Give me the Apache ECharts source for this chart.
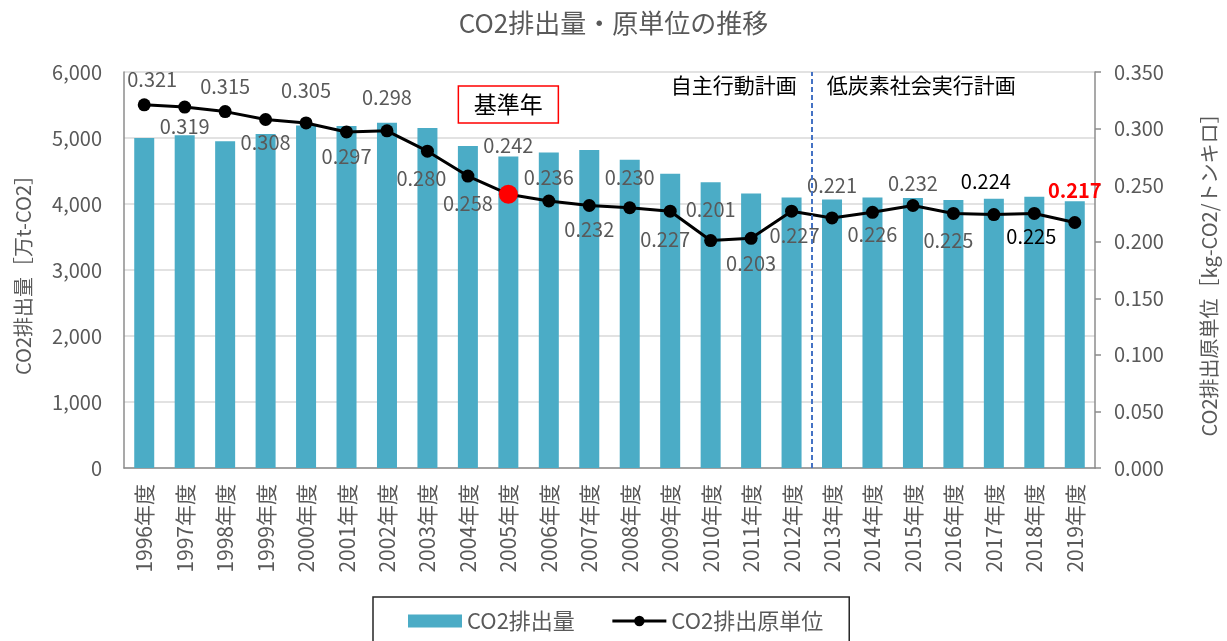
<!DOCTYPE html>
<html>
<head>
<meta charset="utf-8">
<script src="https://cdn.jsdelivr.net/npm/echarts@6/dist/echarts.min.js"></script>
<style>
  html, body { margin: 0; padding: 0; background: #fff; }
  #chart { width: 1227px; height: 641px; }
</style>
</head>
<body>
<div id="chart"></div>
<script>
// 年度
const categories = ['1996年度', '1997年度', '1998年度', '1999年度', '2000年度', '2001年度', '2002年度', '2003年度',
  '2004年度', '2005年度', '2006年度', '2007年度', '2008年度', '2009年度', '2010年度', '2011年度', '2012年度',
  '2013年度', '2014年度', '2015年度', '2016年度', '2017年度', '2018年度', '2019年度']
// CO2排出量 [万t-CO2]
const emissions = [5000, 5040, 4950, 5060, 5190, 5180, 5230, 5150, 4880, 4720, 4780, 4820,
  4670, 4460, 4330, 4160, 4100, 4070, 4100, 4090, 4060, 4080, 4110, 4040]
// CO2排出原単位 [kg-CO2/トンキロ]
const intensity = [0.321, 0.319, 0.315, 0.308, 0.305, 0.297, 0.298, 0.280, 0.258, 0.242, 0.236, 0.232,
  0.230, 0.227, 0.201, 0.203, 0.227, 0.221, 0.226, 0.232, 0.225, 0.224, 0.225, 0.217]
const baseYear = '2005年度'
const planSplit = '2013年度' // 低炭素社会実行計画の開始

// ラベル位置(点からのずれ)
const labelOffsets = [[8, -25], [0, 19], [0, -25], [0, 23], [0, -33], [0, 24], [0, -33], [-6, 27], [0, 27],
  [0, -49], [0, -24], [0, 24], [0, -30], [-5, 28], [0, -31], [0, 25], [3, 24], [0, -33], [0, 22], [0, -22],
  [-5, 27], [-8, -33], [-3, 23], [0, -32]]

const FONT = "'Noto Sans CJK JP', 'Noto Sans', sans-serif"
const GRAY = '#595959'
const AXIS = '#8c8c8c'

const chart = echarts.init(document.getElementById('chart'))

const lineData = intensity.map((v, i) => {
  const item = { value: v, label: { offset: labelOffsets[i] } }
  if (categories[i] === baseYear) {
    item.symbolSize = 19
    item.itemStyle = { color: '#ff0000' }
  }
  if (i === 21 || i === 22) item.label.color = '#000'
  if (i === intensity.length - 1) {
    item.label.color = '#ff0000'
    item.label.fontWeight = 'bold'
  }
  return item
})

const option = {
  animation: false,
  textStyle: { fontFamily: FONT },
  title: {
    text: 'CO2排出量・原単位の推移',
    left: 'center',
    top: 5,
    textStyle: { fontSize: 26, fontWeight: 'normal', color: GRAY, fontFamily: FONT }
  },
  legend: {
    data: [
      { name: 'CO2排出量', icon: 'rect' },
      { name: 'CO2排出原単位' }
    ],
    left: 373,
    top: 597,
    padding: [13, 26, 30, 35],
    borderColor: '#262626',
    borderWidth: 1.5,
    itemGap: 36,
    itemWidth: 54,
    itemHeight: 13,
    lineStyle: { width: 'inherit' },
    textStyle: { fontSize: 22, color: GRAY, fontFamily: FONT }
  },
  grid: { left: 124, right: 122, top: 72, bottom: 173 },
  xAxis: [
    {
      type: 'category',
      data: categories,
      axisLine: { lineStyle: { color: AXIS, width: 1.5 } },
      axisTick: { show: false },
      axisLabel: { rotate: 90, fontSize: 21, color: GRAY, margin: 16, fontFamily: FONT }
    },
    {
      // 計画の区切り線用
      type: 'value',
      min: 0,
      max: categories.length,
      show: false
    }
  ],
  yAxis: [
    {
      type: 'value',
      min: 0,
      max: 6000,
      interval: 1000,
      name: 'CO2排出量［万t-CO2］',
      nameLocation: 'middle',
      nameRotate: 90,
      nameGap: 91,
      nameTextStyle: { fontSize: 20, color: GRAY, fontFamily: FONT },
      axisLine: { show: true, lineStyle: { color: AXIS, width: 1.5 } },
      axisTick: { show: false },
      axisLabel: {
        fontSize: 20,
        color: GRAY,
        margin: 22,
        fontFamily: FONT,
        formatter: v => v.toLocaleString('en-US')
      },
      splitLine: { lineStyle: { color: '#d9d9d9', width: 1.5 } }
    },
    {
      type: 'value',
      min: 0,
      max: 0.35,
      interval: 0.05,
      position: 'right',
      name: 'CO2排出原単位［kg-CO2/トンキロ］',
      nameLocation: 'middle',
      nameRotate: 90,
      nameGap: 104,
      nameTextStyle: { fontSize: 20, color: GRAY, fontFamily: FONT },
      axisLine: { show: true, lineStyle: { color: AXIS, width: 1.5 } },
      axisTick: { show: true, length: 6, lineStyle: { color: AXIS, width: 1.5 } },
      axisLabel: {
        fontSize: 20,
        color: GRAY,
        margin: 19,
        fontFamily: FONT,
        formatter: v => v.toFixed(3)
      },
      splitLine: { show: false }
    }
  ],
  series: [
    {
      name: 'CO2排出量',
      type: 'bar',
      data: emissions,
      barWidth: 20,
      itemStyle: { color: '#4bacc6' }
    },
    {
      name: 'CO2排出原単位',
      type: 'line',
      yAxisIndex: 1,
      data: lineData,
      symbol: 'circle',
      symbolSize: 13,
      itemStyle: { color: '#000' },
      lineStyle: { color: '#000', width: 3 },
      label: {
        show: true,
        position: 'inside',
        fontSize: 20,
        color: GRAY,
        fontFamily: FONT,
        formatter: p => p.value.toFixed(3)
      },
      z: 3
    },
    {
      name: 'split',
      type: 'line',
      xAxisIndex: 1,
      yAxisIndex: 0,
      data: [],
      silent: true,
      markLine: {
        symbol: 'none',
        silent: true,
        label: { show: false },
        lineStyle: { color: '#4472c4', width: 2, type: [5, 3] },
        data: [{ xAxis: categories.indexOf(planSplit) }]
      }
    }
  ]
}

chart.setOption(option)

// 注記(基準年・計画名)
const baseX = chart.convertToPixel({ xAxisIndex: 0 }, baseYear)
const splitX = chart.convertToPixel({ xAxisIndex: 1 }, categories.indexOf(planSplit))
chart.setOption({
  graphic: [
    {
      type: 'rect',
      shape: { x: baseX - 50, y: 86, width: 100, height: 37 },
      style: { fill: '#fff', stroke: '#ff0000', lineWidth: 1.5 },
      z: 10
    },
    {
      type: 'text',
      x: baseX,
      y: 104.5,
      style: { text: '基準年', fontSize: 23, fill: '#000', align: 'center', verticalAlign: 'middle', fontFamily: FONT },
      z: 11
    },
    {
      type: 'text',
      x: splitX - 15,
      y: 85,
      style: { text: '自主行動計画', fontSize: 21, fill: '#000', align: 'right', verticalAlign: 'middle', fontFamily: FONT },
      z: 11
    },
    {
      type: 'text',
      x: splitX + 15,
      y: 85,
      style: { text: '低炭素社会実行計画', fontSize: 21, fill: '#000', align: 'left', verticalAlign: 'middle', fontFamily: FONT },
      z: 11
    }
  ]
})
</script>
</body>
</html>
